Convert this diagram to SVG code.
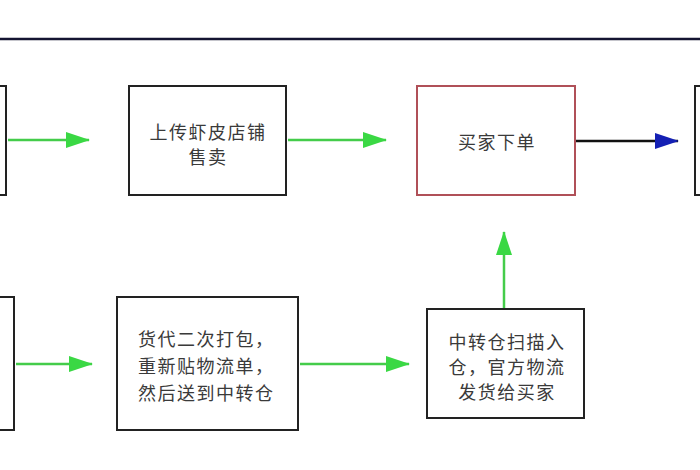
<svg xmlns="http://www.w3.org/2000/svg" width="700" height="470" viewBox="0 0 700 470">
<style>
.box{fill:#fff;stroke:#222;stroke-width:2}
.red{fill:#fff;stroke:#b05058;stroke-width:2}
.t{font-family:"Noto Sans CJK SC","Noto Sans",sans-serif;font-size:18px;letter-spacing:1.5px;fill:#3a3a3a}
.c{text-anchor:middle}
.g{stroke:#44cc4a;stroke-width:2.5;fill:none}
.k{stroke:#111;stroke-width:2.5;fill:none}
</style>
<defs>
<marker id="ag" markerUnits="userSpaceOnUse" markerWidth="24" markerHeight="18" refX="23" refY="9" orient="auto"><path d="M0,1 L24,9 L0,17 Z" fill="#3ad844"/></marker>
<marker id="ab" markerUnits="userSpaceOnUse" markerWidth="24" markerHeight="18" refX="23" refY="9" orient="auto"><path d="M0,1 L24,9 L0,17 Z" fill="#1420b4"/></marker>
</defs>
<rect width="700" height="470" fill="#fff"/>
<line x1="0" y1="39" x2="700" y2="39" stroke="#141432" stroke-width="2.5"/>
<g id="n-left-top"><rect class="box" x="-10" y="86" width="16" height="109"/></g>
<g id="n-upload"><rect class="box" x="129" y="86" width="157" height="109"/>
<text class="t c" x="208" y="139">上传虾皮店铺</text><text class="t c" x="208" y="164">售卖</text></g>
<g id="n-order"><rect class="red" x="417" y="86" width="158" height="109"/>
<text class="t c" x="497" y="149">买家下单</text></g>
<g id="n-right-top"><rect class="box" x="695" y="86" width="16" height="109"/></g>
<g id="n-left-bottom"><rect class="box" x="-10" y="297" width="24" height="133"/></g>
<g id="n-repack"><rect class="box" x="117" y="297" width="181" height="133"/>
<text class="t" x="138" y="346">货代二次打包，</text><text class="t" x="138" y="373">重新贴物流单，</text><text class="t" x="138" y="400">然后送到中转仓</text></g>
<g id="n-transit"><rect class="box" x="427" y="309" width="157" height="109"/>
<text class="t c" x="507" y="349">中转仓扫描入</text><text class="t c" x="507" y="374">仓，官方物流</text><text class="t c" x="507" y="399">发货给买家</text></g>
<g id="connectors">
<line class="g" x1="8" y1="140" x2="89" y2="140" marker-end="url(#ag)"/>
<line class="g" x1="288" y1="140" x2="386" y2="140" marker-end="url(#ag)"/>
<line class="k" x1="576" y1="141" x2="678" y2="141" marker-end="url(#ab)"/>
<line class="g" x1="16" y1="364" x2="92" y2="364" marker-end="url(#ag)"/>
<line class="g" x1="300" y1="364" x2="409" y2="364" marker-end="url(#ag)"/>
<line class="g" x1="504" y1="308" x2="504" y2="232" marker-end="url(#ag)"/>
</g>
</svg>
